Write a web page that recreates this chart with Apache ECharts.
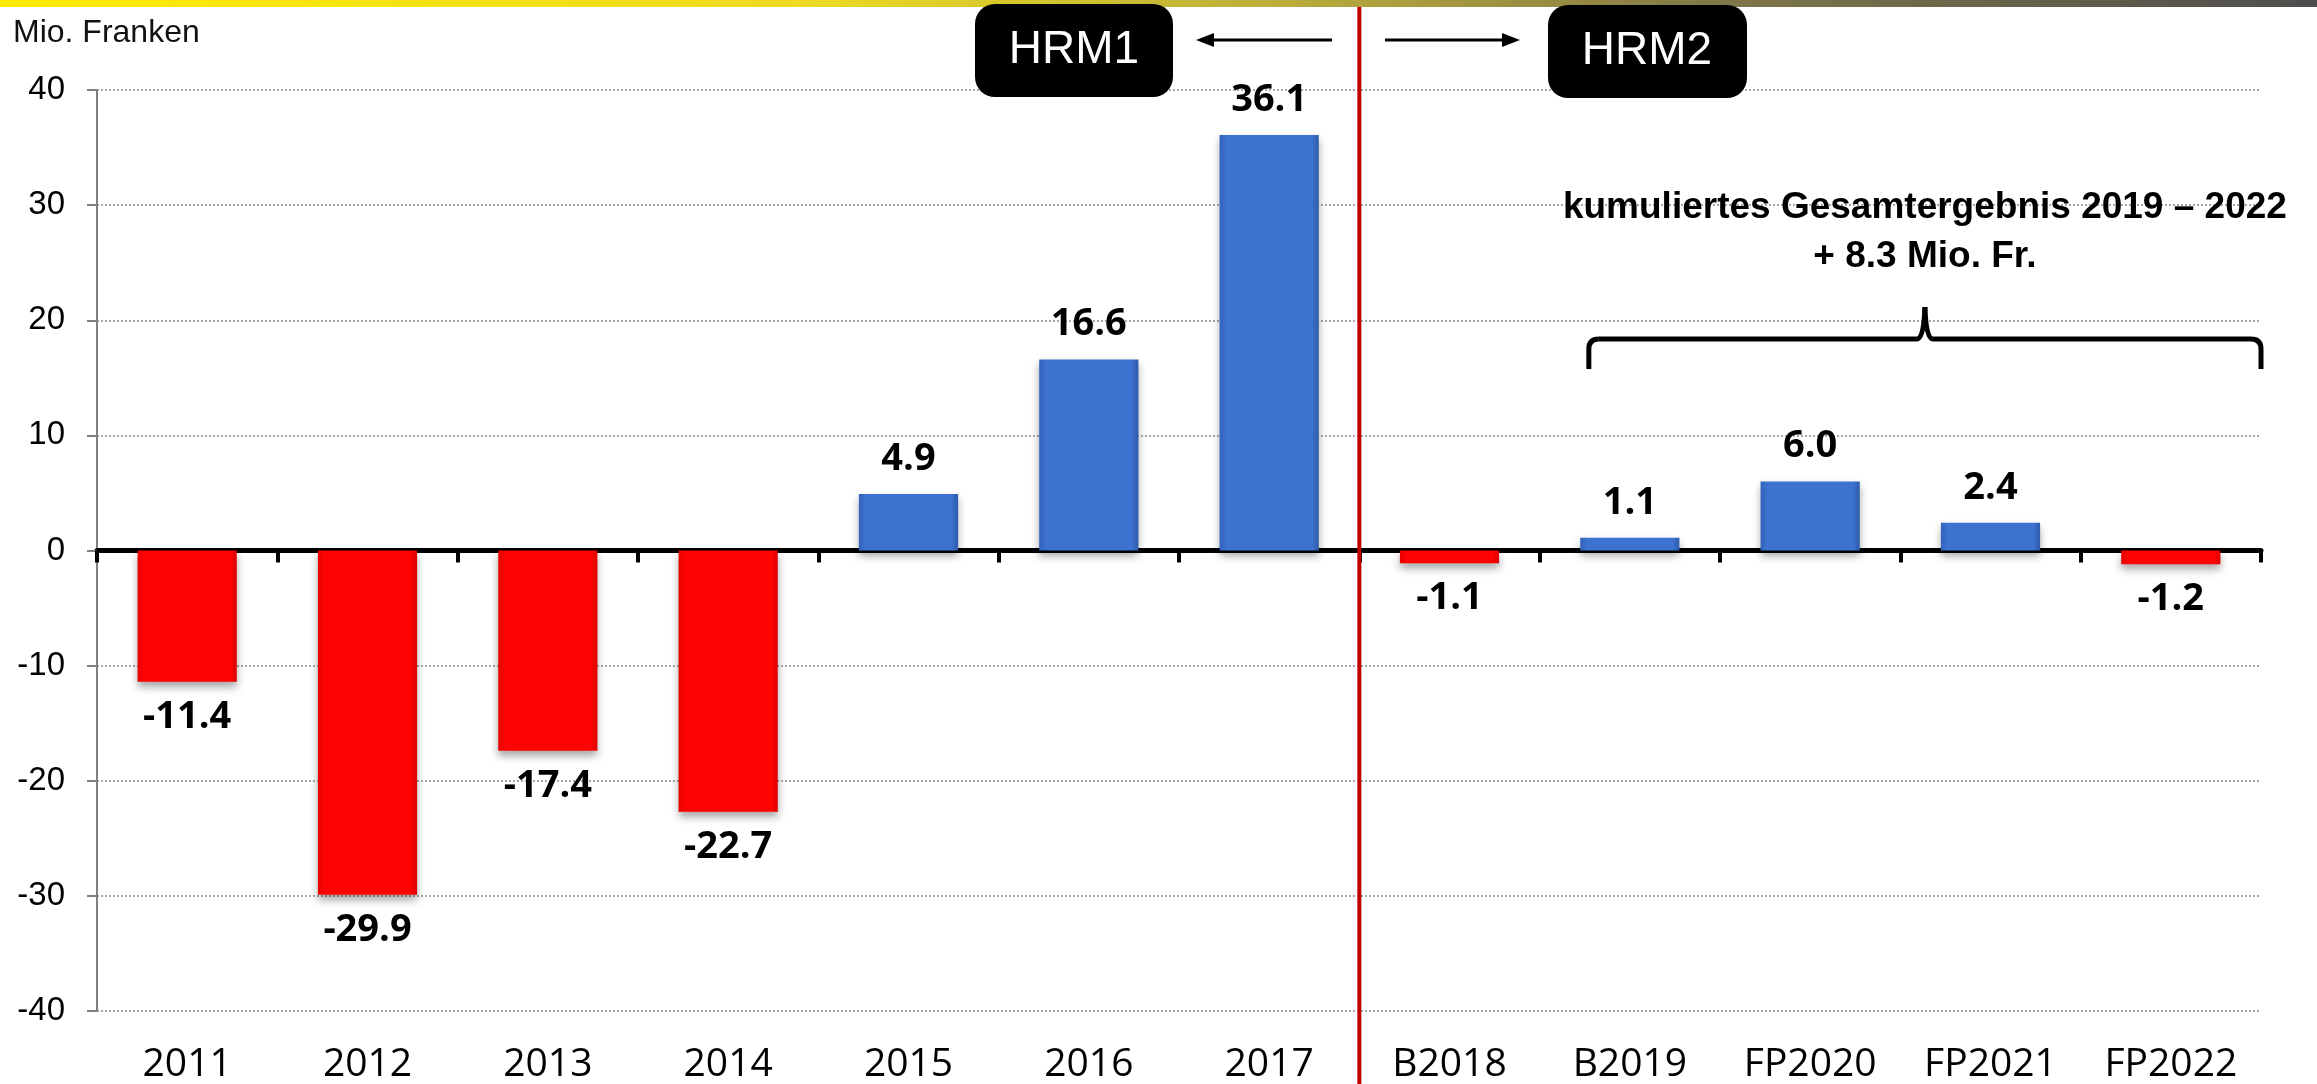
<!DOCTYPE html>
<html>
<head>
<meta charset="utf-8">
<script src="https://cdn.jsdelivr.net/npm/echarts@6/dist/echarts.min.js"></script>
<style>
html, body { margin: 0; padding: 0; background: #fff; }
#main { width: 2317px; height: 1084px; }
</style>
</head>
<body>
<div id="main"></div>
<script>
// Daten
var categories = ['2011', '2012', '2013', '2014', '2015', '2016', '2017', 'B2018', 'B2019', 'FP2020', 'FP2021', 'FP2022'];
var values = [-11.4, -29.9, -17.4, -22.7, 4.9, 16.6, 36.1, -1.1, 1.1, 6.0, 2.4, -1.2];
var yTicks = [-40, -30, -20, -10, 0, 10, 20, 30, 40];
var unitText = 'Mio. Franken';
var noteLines = ['kumuliertes Gesamtergebnis 2019 \u2013 2022', '+ 8.3 Mio. Fr.'];

var myChart = echarts.init(document.getElementById('main'));

var blue = new echarts.graphic.LinearGradient(0, 0, 1, 0, [
    {offset: 0, color: '#3262BA'},
    {offset: 0.07, color: '#3C72D0'},
    {offset: 0.93, color: '#3C72D0'},
    {offset: 1, color: '#2E5AA9'}
]);
var red = new echarts.graphic.LinearGradient(0, 0, 1, 0, [
    {offset: 0, color: '#E60000'},
    {offset: 0.07, color: '#FF0303'},
    {offset: 0.93, color: '#FF0303'},
    {offset: 1, color: '#DD0000'}
]);

var data = values.map(function (v) {
    return {
        value: v,
        itemStyle: {color: v >= 0 ? blue : red},
        label: {position: v >= 0 ? 'top' : 'bottom'}
    };
});

var option = {
    backgroundColor: '#fff',
    animation: false,
    grid: {left: 97, right: 56, top: 90, bottom: 72},
    xAxis: [{
        type: 'category',
        data: categories,
        axisLine: {onZero: true, lineStyle: {color: '#000', width: 5}},
        axisTick: {show: true, length: 12, lineStyle: {color: '#000', width: 4}},
        axisLabel: {show: false}
    }, {
        type: 'category',
        data: categories,
        position: 'bottom',
        axisLine: {show: false, onZero: false},
        axisTick: {show: false},
        axisLabel: {
            margin: 34,
            color: '#000',
            fontFamily: 'Open Sans',
            fontSize: 39
        }
    }],
    yAxis: {
        type: 'value',
        min: yTicks[0],
        max: yTicks[yTicks.length - 1],
        interval: 10,
        axisLine: {show: true, lineStyle: {color: '#808080', width: 2}},
        axisTick: {show: true, length: 10, lineStyle: {color: '#808080', width: 2}},
        axisLabel: {
            margin: 32,
            color: '#000',
            fontFamily: 'Liberation Sans',
            fontSize: 33
        },
        splitLine: {
            show: true,
            lineStyle: {color: '#8a8a8a', width: 1.5, type: [2, 2]}
        }
    },
    series: [{
        type: 'bar',
        data: data,
        barWidth: '55%',
        itemStyle: {
            shadowBlur: 8,
            shadowOffsetY: 5,
            shadowColor: 'rgba(0,0,0,0.35)'
        },
        label: {
            show: true,
            distance: 16,
            color: '#000',
            fontFamily: 'Open Sans',
            fontWeight: 'bold',
            fontSize: 38,
            formatter: function (p) { return p.value.toFixed(1); }
        }
    }]
};

myChart.setOption(option);

// Trennlinie HRM1 / HRM2 zwischen 2017 und B2018
var p17 = myChart.convertToPixel({xAxisIndex: 0}, '2017');
var p18 = myChart.convertToPixel({xAxisIndex: 0}, 'B2018');
var sepX = (p17 + p18) / 2;
var braceL = myChart.convertToPixel({xAxisIndex: 0}, 'B2019') - 41;
var braceR = 2261;
var braceC = (braceL + braceR) / 2;
var braceStyle = {stroke: '#000', lineWidth: 5, fill: null};

myChart.setOption({
    graphic: [
        {
            type: 'rect', x: 0, y: 0, z: 10,
            shape: {x: 0, y: 0, width: 2317, height: 7},
            style: {
                fill: new echarts.graphic.LinearGradient(0, 0, 1, 0, [
                    {offset: 0, color: '#FFEB00'},
                    {offset: 0.35, color: '#EDDA22'},
                    {offset: 0.55, color: '#BBAE3A'},
                    {offset: 0.75, color: '#7E7548'},
                    {offset: 1, color: '#4D4D4D'}
                ])
            }
        },
        {
            type: 'line', z: 20,
            shape: {x1: sepX, y1: 7, x2: sepX, y2: 1084},
            style: {stroke: '#C00000', lineWidth: 4}
        },
        {
            type: 'text', x: 13, y: 17, z: 20,
            style: {text: unitText, font: '32px "Liberation Sans"', fill: '#111', verticalAlign: 'top'}
        },
        // HRM1
        {
            type: 'rect', z: 30,
            shape: {x: 975, y: 4, width: 198, height: 93, r: 20},
            style: {fill: '#000'}
        },
        {
            type: 'text', z: 31, x: 1074, y: 50,
            style: {text: 'HRM1', font: '46px "Liberation Sans"', fill: '#fff', align: 'center', verticalAlign: 'middle'}
        },
        {
            type: 'line', z: 30,
            shape: {x1: 1332, y1: 40, x2: 1210, y2: 40},
            style: {stroke: '#000', lineWidth: 3}
        },
        {
            type: 'polygon', z: 30,
            shape: {points: [[1196, 40], [1214, 33], [1214, 47]]},
            style: {fill: '#000'}
        },
        // HRM2
        {
            type: 'rect', z: 30,
            shape: {x: 1548, y: 5, width: 199, height: 93, r: 20},
            style: {fill: '#000'}
        },
        {
            type: 'text', z: 31, x: 1647, y: 51,
            style: {text: 'HRM2', font: '46px "Liberation Sans"', fill: '#fff', align: 'center', verticalAlign: 'middle'}
        },
        {
            type: 'line', z: 30,
            shape: {x1: 1385, y1: 40, x2: 1506, y2: 40},
            style: {stroke: '#000', lineWidth: 3}
        },
        {
            type: 'polygon', z: 30,
            shape: {points: [[1520, 40], [1502, 33], [1502, 47]]},
            style: {fill: '#000'}
        },
        // Kumuliert
        {
            type: 'text', z: 30, x: braceC, y: 208,
            style: {text: noteLines[0], font: 'bold 37px "Liberation Sans"', fill: '#000', align: 'center', verticalAlign: 'middle'}
        },
        {
            type: 'text', z: 30, x: braceC, y: 257,
            style: {text: noteLines[1], font: 'bold 37px "Liberation Sans"', fill: '#000', align: 'center', verticalAlign: 'middle'}
        },
        // geschweifte Klammer
        {
            type: 'polyline', z: 30,
            shape: {points: [[braceL, 369], [braceL, 349]]},
            style: braceStyle
        },
        {
            type: 'bezierCurve', z: 30,
            shape: {x1: braceL, y1: 349, cpx1: braceL, cpy1: 339, x2: braceL + 10, y2: 339},
            style: braceStyle
        },
        {
            type: 'line', z: 30,
            shape: {x1: braceL + 10, y1: 339, x2: braceC - 8, y2: 339},
            style: braceStyle
        },
        {
            type: 'bezierCurve', z: 30,
            shape: {x1: braceC - 8, y1: 339, cpx1: braceC - 1, cpy1: 339, x2: braceC, y2: 307},
            style: braceStyle
        },
        {
            type: 'bezierCurve', z: 30,
            shape: {x1: braceC, y1: 307, cpx1: braceC + 1, cpy1: 339, x2: braceC + 8, y2: 339},
            style: braceStyle
        },
        {
            type: 'line', z: 30,
            shape: {x1: braceC + 8, y1: 339, x2: braceR - 10, y2: 339},
            style: braceStyle
        },
        {
            type: 'bezierCurve', z: 30,
            shape: {x1: braceR - 10, y1: 339, cpx1: braceR, cpy1: 339, x2: braceR, y2: 349},
            style: braceStyle
        },
        {
            type: 'polyline', z: 30,
            shape: {points: [[braceR, 349], [braceR, 369]]},
            style: braceStyle
        }
    ]
});

window.addEventListener('resize', function () {
    myChart.resize();
});
</script>
</body>
</html>
